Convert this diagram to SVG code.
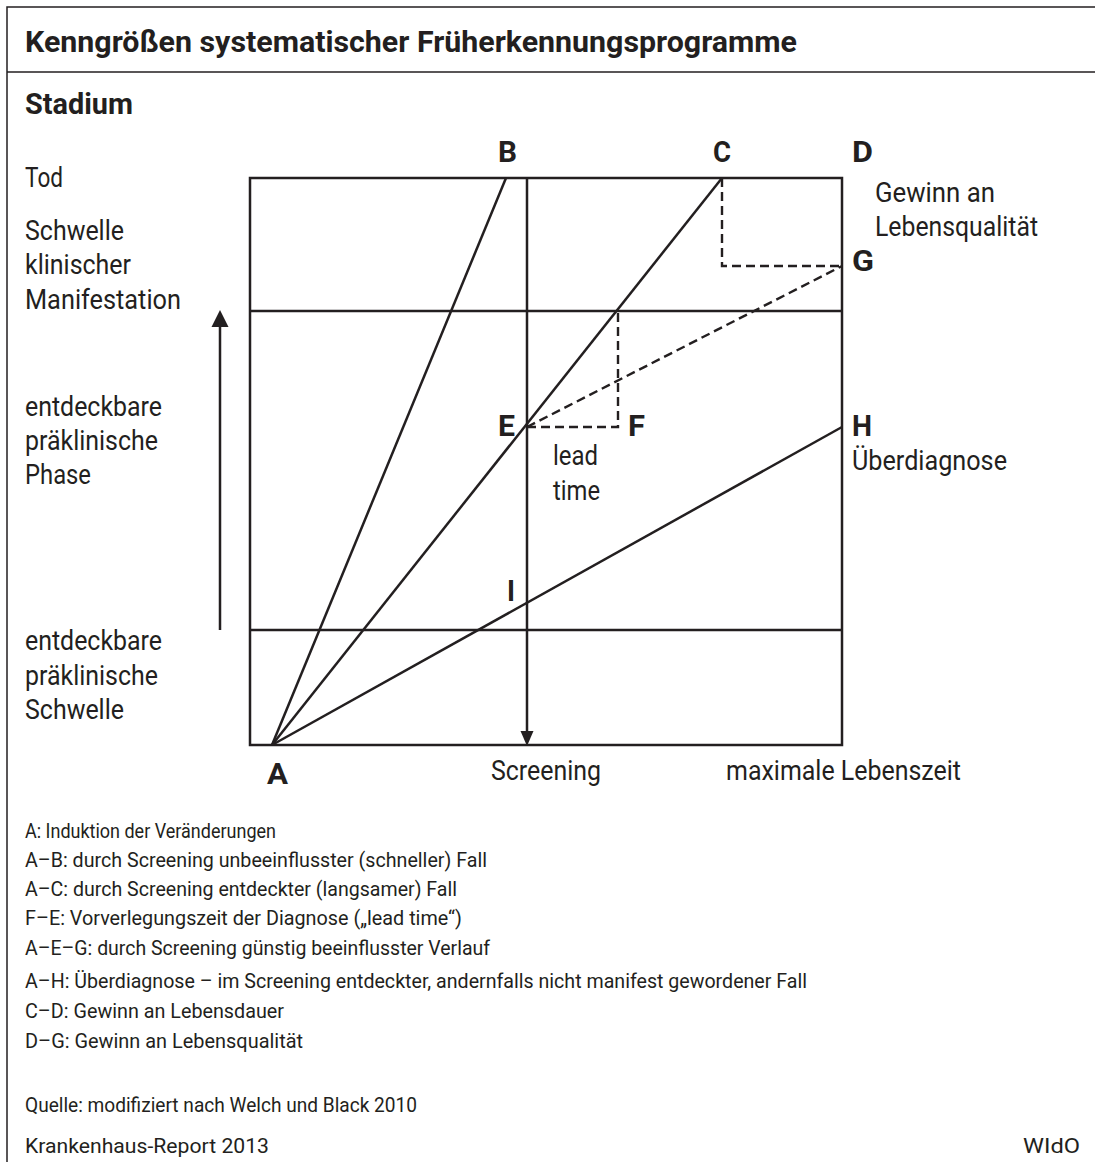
<svg xmlns="http://www.w3.org/2000/svg" width="1095" height="1162" viewBox="0 0 1095 1162">
<style>
.t{font-family:Roboto,"Open Sans","Liberation Sans",sans-serif;font-size:28px;fill:#231f20}
.b{font-family:Roboto,"Open Sans","Liberation Sans",sans-serif;font-weight:bold;fill:#231f20}
.s{font-family:Roboto,"Open Sans","Liberation Sans",sans-serif;font-size:20px;fill:#231f20}
.ln{stroke:#231f20;stroke-width:2.5;fill:none}
.fr{stroke:#231f20;stroke-width:1.5;fill:none}
.da{stroke:#231f20;stroke-width:2.4;fill:none;stroke-dasharray:9 5}
.ah{fill:#231f20}
</style>
<rect width="1095" height="1162" fill="#fff"/>
<g id="frame">
<path class="fr" d="M1095,7 H7 V1162 M7,72 H1095"/>
</g>
<g id="title">
<text class="b" x="25" y="52" font-size="30" textLength="772" lengthAdjust="spacingAndGlyphs">Kenngrößen systematischer Früherkennungsprogramme</text>
<text class="b" x="25" y="114" font-size="30" textLength="108" lengthAdjust="spacingAndGlyphs">Stadium</text>
</g>
<g id="axis-labels">
<text class="t" x="25" y="187" textLength="38" lengthAdjust="spacingAndGlyphs">Tod</text>
<text class="t" x="25" y="240" textLength="99" lengthAdjust="spacingAndGlyphs">Schwelle</text>
<text class="t" x="25" y="274" textLength="106" lengthAdjust="spacingAndGlyphs">klinischer</text>
<text class="t" x="25" y="309" textLength="156" lengthAdjust="spacingAndGlyphs">Manifestation</text>
<text class="t" x="25" y="416" textLength="137" lengthAdjust="spacingAndGlyphs">entdeckbare</text>
<text class="t" x="25" y="450" textLength="133" lengthAdjust="spacingAndGlyphs">präklinische</text>
<text class="t" x="25" y="484" textLength="66" lengthAdjust="spacingAndGlyphs">Phase</text>
<text class="t" x="25" y="650" textLength="137" lengthAdjust="spacingAndGlyphs">entdeckbare</text>
<text class="t" x="25" y="685" textLength="133" lengthAdjust="spacingAndGlyphs">präklinische</text>
<text class="t" x="25" y="719" textLength="99" lengthAdjust="spacingAndGlyphs">Schwelle</text>
<text class="t" x="491" y="780" textLength="110" lengthAdjust="spacingAndGlyphs">Screening</text>
<text class="t" x="726" y="780" textLength="235" lengthAdjust="spacingAndGlyphs">maximale Lebenszeit</text>
<text class="t" x="875" y="202" textLength="120" lengthAdjust="spacingAndGlyphs">Gewinn an</text>
<text class="t" x="875" y="236" textLength="163" lengthAdjust="spacingAndGlyphs">Lebensqualität</text>
<text class="t" x="553" y="465" textLength="45" lengthAdjust="spacingAndGlyphs">lead</text>
<text class="t" x="553" y="500" textLength="47" lengthAdjust="spacingAndGlyphs">time</text>
<text class="t" x="852" y="470" textLength="155" lengthAdjust="spacingAndGlyphs">Überdiagnose</text>
</g>
<g id="node-A"><text class="b" x="267" y="784" font-size="29" textLength="21" lengthAdjust="spacingAndGlyphs">A</text></g>
<g id="node-B"><text class="b" x="498" y="162" font-size="29" textLength="19" lengthAdjust="spacingAndGlyphs">B</text></g>
<g id="node-C"><text class="b" x="713" y="162" font-size="29" textLength="18" lengthAdjust="spacingAndGlyphs">C</text></g>
<g id="node-D"><text class="b" x="852" y="162" font-size="29" textLength="21" lengthAdjust="spacingAndGlyphs">D</text></g>
<g id="node-E"><text class="b" x="498" y="436" font-size="29" textLength="17" lengthAdjust="spacingAndGlyphs">E</text></g>
<g id="node-F"><text class="b" x="628" y="436" font-size="29" textLength="17" lengthAdjust="spacingAndGlyphs">F</text></g>
<g id="node-G"><text class="b" x="852" y="271" font-size="29" textLength="22" lengthAdjust="spacingAndGlyphs">G</text></g>
<g id="node-H"><text class="b" x="852" y="436" font-size="29" textLength="20" lengthAdjust="spacingAndGlyphs">H</text></g>
<g id="node-I"><text class="b" x="507" y="601" font-size="29" textLength="8" lengthAdjust="spacingAndGlyphs">I</text></g>
<g id="connectors">
<rect class="ln" x="250" y="178" width="592" height="567"/>
<line class="ln" x1="250" y1="311" x2="842" y2="311"/>
<line class="ln" x1="250" y1="630" x2="842" y2="630"/>
<line class="ln" x1="527" y1="178" x2="527" y2="735"/>
<polygon class="ah" points="520.5,731 533.5,731 527,746"/>
<line class="ln" x1="220" y1="630" x2="220" y2="322"/>
<polygon class="ah" points="211.5,327 228.5,327 220,310"/>
<line class="ln" x1="272" y1="745" x2="506" y2="178"/>
<line class="ln" x1="272" y1="745" x2="722" y2="178"/>
<line class="ln" x1="272" y1="745" x2="842" y2="427"/>
<path class="da" d="M722,178 V266 H842"/>
<path class="da" d="M527,427 H618 V311"/>
<line class="da" x1="527" y1="427" x2="842" y2="266" stroke-dasharray="17 8"/>
</g>
<g id="legend">
<text class="s" x="25" y="838" textLength="251" lengthAdjust="spacingAndGlyphs">A: Induktion der Veränderungen</text>
<text class="s" x="25" y="867" textLength="462" lengthAdjust="spacingAndGlyphs">A–B: durch Screening unbeeinflusster (schneller) Fall</text>
<text class="s" x="25" y="896" textLength="432" lengthAdjust="spacingAndGlyphs">A–C: durch Screening entdeckter (langsamer) Fall</text>
<text class="s" x="25" y="925" textLength="437" lengthAdjust="spacingAndGlyphs">F–E: Vorverlegungszeit der Diagnose („lead time“)</text>
<text class="s" x="25" y="955" textLength="465" lengthAdjust="spacingAndGlyphs">A–E–G: durch Screening günstig beeinflusster Verlauf</text>
<text class="s" x="25" y="988" textLength="782" lengthAdjust="spacingAndGlyphs">A–H: Überdiagnose – im Screening entdeckter, andernfalls nicht manifest gewordener Fall</text>
<text class="s" x="25" y="1018" textLength="259" lengthAdjust="spacingAndGlyphs">C–D: Gewinn an Lebensdauer</text>
<text class="s" x="25" y="1048" textLength="278" lengthAdjust="spacingAndGlyphs">D–G: Gewinn an Lebensqualität</text>
<text class="s" x="25" y="1112" textLength="392" lengthAdjust="spacingAndGlyphs">Quelle: modifiziert nach Welch und Black 2010</text>
<text class="s" x="25" y="1153" font-size="25" textLength="244" lengthAdjust="spacingAndGlyphs">Krankenhaus-Report 2013</text>
<text class="s" x="1023" y="1153" font-size="25" textLength="57" lengthAdjust="spacingAndGlyphs">WIdO</text>
</g>
</svg>
